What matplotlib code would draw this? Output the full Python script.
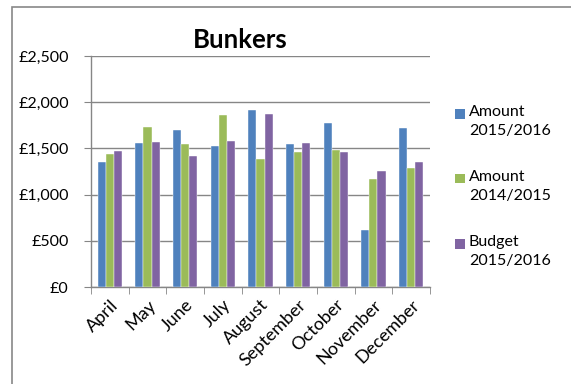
import numpy as np
import matplotlib.pyplot as plt
from matplotlib.patches import Rectangle
from matplotlib.ticker import FuncFormatter

plt.rcParams['font.family'] = ['Lato', 'DejaVu Sans']

# Monthly bunker spend
months = ['April', 'May', 'June', 'July', 'August', 'September',
          'October', 'November', 'December']
amount_1516 = [1348, 1554, 1703, 1529, 1913, 1551, 1779, 620, 1722]
amount_1415 = [1439, 1728, 1543, 1866, 1391, 1464, 1483, 1171, 1287]
budget_1516 = [1467, 1565, 1413, 1584, 1877, 1559, 1464, 1258, 1355]

series = [
    (amount_1516, 'Amount\n2015/2016', '#4F81BD'),
    (amount_1415, 'Amount\n2014/2015', '#9BBB59'),
    (budget_1516, 'Budget\n2015/2016', '#8064A2'),
]

W, H = 571, 384
fig = plt.figure(figsize=(W / 100, H / 100), dpi=100)
ax = fig.add_axes([0.1594, 0.2526, 0.5936, 0.6014])

x = np.arange(len(months))
w = 0.213
for i, (vals, label, color) in enumerate(series):
    ax.bar(x + (i - 1) * w, vals, w, color=color, label=label,
           edgecolor='white', linewidth=0.3, zorder=3)

ax.set_xlim(-0.5, len(months) - 0.5)
ax.set_ylim(0, 2500)
ax.set_yticks(np.arange(0, 2501, 500))
ax.yaxis.set_major_formatter(FuncFormatter(lambda v, p: f'£{int(v):,}'))
ax.grid(axis='y', color='#868686', linewidth=1, zorder=0)

# category labels centred, tick marks between categories
ax.set_xticks(x)
ax.set_xticklabels(months, rotation=45, ha='right', rotation_mode='anchor')
ax.set_xticks(np.arange(-0.5, len(months)), minor=True)
ax.tick_params(axis='x', which='major', length=0, pad=7, labelsize=13)
ax.tick_params(axis='x', which='minor', length=5, color='#868686')
ax.tick_params(axis='y', length=5, color='#868686', labelsize=11.5, pad=11)

for side in ['top', 'right']:
    ax.spines[side].set_visible(False)
for side in ['left', 'bottom']:
    ax.spines[side].set_color('#868686')
    ax.spines[side].set_linewidth(1)

ax.set_title('Bunkers', fontsize=18.5, fontweight='bold', pad=6, x=0.44)

# legend: square aligned with the first line of each label
for k, (vals, label, color) in enumerate(series):
    yc = 114 + 65 * k
    fig.patches.append(Rectangle((455 / W, 1 - (yc + 4.5) / H), 10 / W, 9.5 / H,
                                 transform=fig.transFigure,
                                 facecolor=color, edgecolor='none'))
    fig.text(469 / W, 1 - (yc - 9) / H, label, fontsize=11.5,
             va='top', ha='left', linespacing=1.42)

# chart area border
fig.patches.append(Rectangle((12 / W, -0.1), 1.2, 1.1 - 7 / H,
                             transform=fig.transFigure, fill=False,
                             edgecolor='#888888', linewidth=1.2,
                             clip_on=False))

fig.savefig('out.png', dpi=100)
